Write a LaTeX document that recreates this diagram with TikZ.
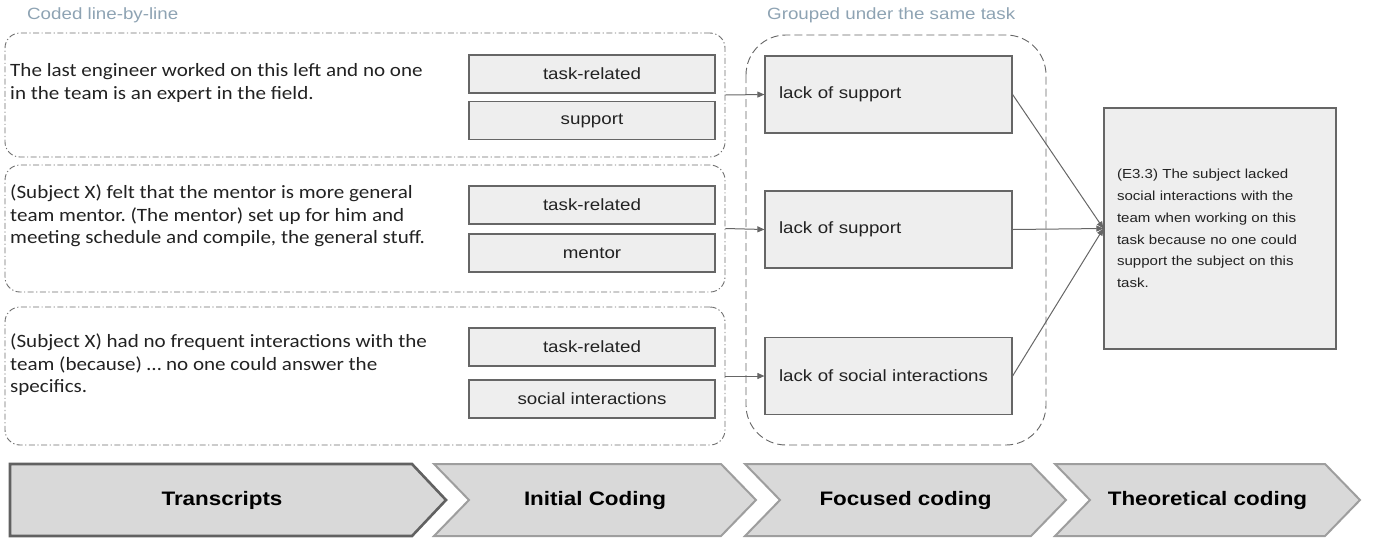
\documentclass[tikz,border=0pt]{standalone}
\usepackage{fontspec}
\setmainfont{Carlito}[FakeStretch=1.12]
\newfontfamily\arialfont{Liberation Sans}[FakeStretch=1.15]
\usetikzlibrary{arrows.meta, positioning}
\frenchspacing

\definecolor{boxfill}{HTML}{EEEEEE}
\definecolor{boxline}{HTML}{666666}
\definecolor{groupline}{HTML}{6E6E6E}
\definecolor{headgray}{HTML}{8EA3B3}
\definecolor{chevfill}{HTML}{D9D9D9}
\definecolor{chevline}{HTML}{9E9E9E}
\definecolor{chevdark}{HTML}{616161}
\definecolor{txt}{HTML}{222222}

\newcommand\quotefnt{\fontsize{18.8}{22.5}\selectfont}
\newcommand\codefnt{\arialfont\fontsize{16.3}{19}\selectfont}
\newcommand\theofnt{\arialfont\fontsize{13.1}{21.7}\selectfont}
\newcommand\stagefnt{\arialfont\bfseries\fontsize{19.5}{22}\selectfont}

\begin{document}
\begin{tikzpicture}[x=1pt, y=-1pt,
	headtxt/.style={font=\codefnt, text=headgray, inner sep=0pt},
	linegroup/.style={draw=groupline, line width=0.9pt, rounded corners=15pt,
		dash pattern=on 6pt off 2.5pt on 1.2pt off 2.5pt, minimum width=720pt, inner sep=0pt},
	quote/.style={font=\quotefnt, text=txt, align=left, inner sep=0pt},
	codebox/.style={draw=boxline, fill=boxfill, line width=1.2pt, minimum width=246pt,
		minimum height=38pt, inner sep=0pt, font=\codefnt, text=txt},
	focusbox/.style={draw=boxline, fill=boxfill, line width=1.2pt, minimum width=247pt,
		minimum height=77pt, inner xsep=14pt, text width=219pt, align=left, font=\codefnt, text=txt},
	flow/.style={draw=boxline, line width=1pt, -{Triangle[width=6pt,length=7pt]}},
	stage/.style={fill=chevfill, draw=chevline, line width=2pt, line join=miter},
	stagetxt/.style={font=\stagefnt, text=black, inner sep=0pt}]
	
	\useasboundingbox (0,0) rectangle (1374,542);
	
	% Headings over the columns
	\node[headtxt, anchor=west] (hcoded) at (27,15) {Coded line-by-line};
	\node[headtxt, anchor=west] (hgroup) at (767,15) {Grouped under the same task};
	
	% Transcript groups
	\node[linegroup, minimum height=124pt] (g1) at (365,95) {};
	\node[linegroup, minimum height=127pt] (g2) at (365,228.5) {};
	\node[linegroup, minimum height=138pt] (g3) at (365,376) {};
	
	\node[quote, anchor=west] (q1) at (10,83) {The last engineer worked on this left and no one\\in the team is an expert in the field.};
	\node[quote, anchor=west] (q2) at (10,216) {(Subject X) felt that the mentor is more general\\team mentor. (The mentor) set up for him and\\meeting schedule and compile, the general stuff.};
	\node[quote, anchor=west] (q3) at (10,365) {(Subject X) had no frequent interactions with the\\team (because) \dots\ no one could answer the\\specifics.};
	
	% Initial codes
	\node[codebox] (c1a) at (592,74) {task-related};
	\node[codebox] (c1b) at (592,120.5) {support};
	\node[codebox] (c2a) at (592,205) {task-related};
	\node[codebox] (c2b) at (592,253) {mentor};
	\node[codebox] (c3a) at (592,347) {task-related};
	\node[codebox] (c3b) at (592,399) {social interactions};
	
	% Focused codes
	\draw[boxline, line width=0.9pt, dash pattern=on 8pt off 4pt, rounded corners=40pt] (746,35) rectangle (1046,445);
	\node[focusbox] (f1) at (888.5,94.5) {lack of support};
	\node[focusbox] (f2) at (888.5,229.5) {lack of support};
	\node[focusbox] (f3) at (888.5,376) {lack of social interactions};
	
	% Theoretical code
	\node[draw=boxline, fill=boxfill, line width=1.2pt, minimum width=232pt, minimum height=241pt,
		inner xsep=13pt, text width=206pt, align=left, font=\theofnt, text=txt] (theo) at (1220,228.5)
		{(E3.3) The subject lacked\\social interactions with the\\team when working on this\\task because no one could\\support the subject on this\\task.};
	
	\foreach \i in {1,2,3}{
		\draw[flow] (g\i.east) -- (f\i.west);
		\draw[flow] (f\i.east) -- (theo.west);
	}
	
	% Stages along the bottom
	\draw[stage, draw=chevdark, line width=2.6pt] (10,464) -- (412,464) -- (446,500) -- (412,536) -- (10,536) -- cycle;
	\node[stagetxt] (s1) at (222,500) {Transcripts};
	\foreach \l/\r/\name/\lab in {434/721/s2/Initial Coding, 745/1031/s3/Focused coding, 1055/1325/s4/Theoretical coding}{
		\draw[stage] (\l,464) -- (\r,464) -- (\r+35,500) -- (\r,536) -- (\l,536) -- (\l+35,500) -- cycle;
		\node[stagetxt] (\name) at ({(\l+\r+35)/2},500) {\lab};
	}
	
\end{tikzpicture}
\end{document}
